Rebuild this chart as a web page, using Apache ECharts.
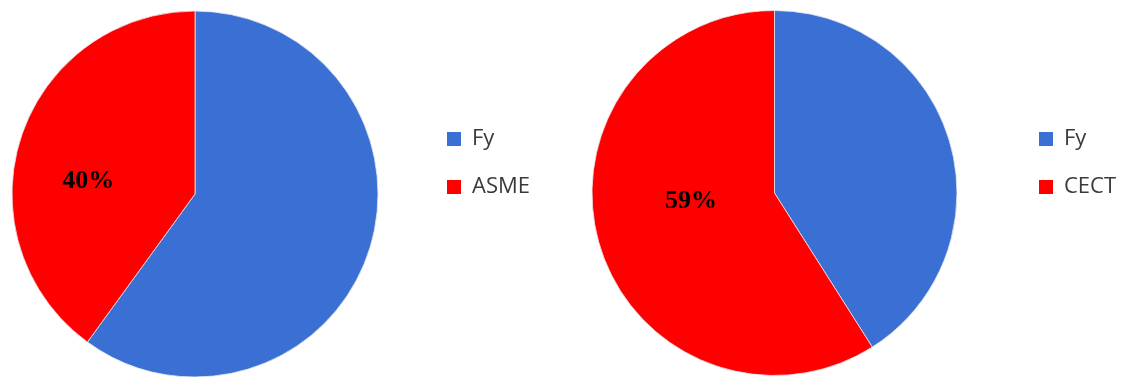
<!DOCTYPE html>
<html>
<head>
<meta charset="utf-8">
<script src="https://cdn.jsdelivr.net/npm/echarts@6/dist/echarts.min.js"></script>
<style>
html,body{margin:0;padding:0;background:#fff;}
#c{width:1127px;height:377px;}
</style>
</head>
<body>
<div id="c"></div>
<script>
const leftNames = ['Fy', 'ASME'];
const leftValues = [60, 40];
const rightNames = ['Fy', 'CECT'];
const rightValues = [41, 59];

const BLUE = '#3a6fd3';
const RED = '#ff0000';

function buildData(names, values, labelOffset) {
  return names.map((n, i) => ({
    name: n,
    value: values[i],
    itemStyle: { color: i === 0 ? BLUE : RED },
    label: i === 0 ? { show: false } : {
      show: true,
      position: 'inside',
      formatter: '{d}%',
      offset: labelOffset,
      fontFamily: '"Liberation Serif", "DejaVu Serif", serif',
      fontWeight: 'bold',
      fontSize: 26,
      color: '#000'
    }
  }));
}

const chart = echarts.init(document.getElementById('c'), null, { renderer: 'canvas' });
const legendText = {
  fontFamily: '"Open Sans", "Liberation Sans", sans-serif',
  fontSize: 22, color: '#3a3a3a', padding: [0, 0, 0, 6]
};
const legendItemStyle = { borderWidth: 0 };
chart.setOption({
  animation: false,
  backgroundColor: '#fff',
  legend: [
    {
      data: leftNames, left: 447, top: 128, orient: 'vertical', icon: 'rect',
      itemWidth: 14, itemHeight: 14, itemGap: 26, padding: 0,
      itemStyle: legendItemStyle,
      textStyle: legendText, selectedMode: false
    },
    {
      data: rightNames, left: 1039, top: 128, orient: 'vertical', icon: 'rect',
      itemWidth: 14, itemHeight: 14, itemGap: 26, padding: 0,
      itemStyle: legendItemStyle,
      textStyle: legendText, selectedMode: false
    }
  ],
  series: [
    {
      type: 'pie', center: [195, 194], radius: 183, startAngle: 90, clockwise: true,
      itemStyle: { borderColor: '#e8e8f0', borderWidth: 0.8 },
      labelLine: { show: false },
      emphasis: { disabled: true },
      data: buildData(leftNames, leftValues, [-17, 16])
    },
    {
      type: 'pie', center: [774.5, 193], radius: 182.5, startAngle: 90, clockwise: true,
      itemStyle: { borderColor: '#e8e8f0', borderWidth: 0.8 },
      labelLine: { show: false },
      emphasis: { disabled: true },
      data: buildData(rightNames, rightValues, [7, -18])
    }
  ]
});
</script>
</body>
</html>
